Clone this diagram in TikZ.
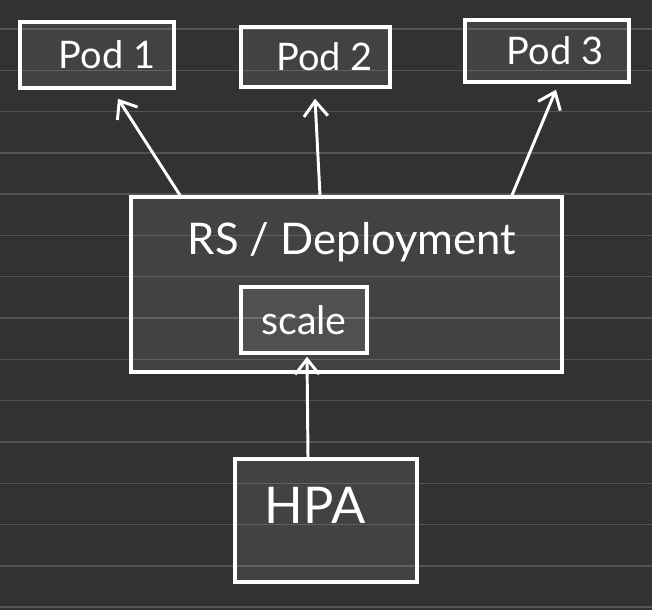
\documentclass[tikz,border=0pt]{standalone}
\usepackage{fontspec}
\setmainfont{Lato}
\usetikzlibrary{arrows.meta}
\definecolor{boardbg}{RGB}{50,50,50}
\definecolor{boardline}{RGB}{84,84,84}
\tikzset{
  wbox/.style={rectangle, draw=white, line width=2.5pt, fill=white, fill opacity=0.08,
               text opacity=1, text=white, inner sep=0pt},
  podbox/.style={wbox, font=\fontsize{27}{30}\selectfont},
  rsbox/.style={wbox, minimum width=10.775cm, minimum height=4.375cm},
  scalebox/.style={wbox, minimum width=3.15cm, minimum height=1.65cm, font=\fontsize{28}{30}\selectfont},
  hpabox/.style={wbox, minimum width=4.55cm, minimum height=3.075cm},
  wtext/.style={text=white, inner sep=0pt},
  warrow/.style={-{Straight Barb[length=3.8mm,width=6mm]}, white, line width=2.1pt,
                 line cap=round, line join=round},
  ruled/.style={boardline, line width=1pt},
}
\begin{document}
\begin{tikzpicture}
  \useasboundingbox (0,0) rectangle (16.3,15.25);
  \fill[boardbg] (0,0) rectangle (16.3,15.25);
  \foreach \k in {0,...,14}
    \draw[ruled] (0,{14.525-1.0325*\k}) -- (16.3,{14.525-1.0325*\k});
  % pods
  \node[podbox, minimum width=3.85cm,  minimum height=1.65cm] (pod1) at (2.425,13.875)  {\hspace{0.5cm}Pod 1};
  \node[podbox, minimum width=3.725cm, minimum height=1.5cm]  (pod2) at (7.89,13.825)   {\hspace{0.45cm}Pod 2};
  \node[podbox, minimum width=4.1cm,   minimum height=1.55cm] (pod3) at (13.675,13.975) {\hspace{0.4cm}Pod 3};
  % replica set
  \node[rsbox] (rs) at (8.6625,8.1375) {};
  \node[wtext, font=\fontsize{31}{34}\selectfont] (rstext) at (8.8,9.2) {RS / Deployment};
  \node[scalebox] (scale) at (7.6,7.25) {scale};
  % autoscaler
  \node[hpabox] (hpa) at (8.15,2.2375) {};
  \node[wtext, font=\fontsize{36}{40}\selectfont] (hpatext) at (7.875,2.625) {HPA};
  \draw[warrow] ([xshift=-4.1625cm]rs.north) -- ([xshift=0.525cm,yshift=-0.225cm]pod1.south);
  \draw[warrow] ([xshift=-0.6625cm]rs.north) -- ([xshift=-0.015cm,yshift=-0.25cm]pod2.south);
  \draw[warrow] ([xshift=4.1375cm]rs.north) -- ([xshift=0.225cm,yshift=-0.15cm]pod3.south);
  \draw[warrow] ([xshift=-0.45cm]hpa.north) -- ([xshift=0.075cm,yshift=-0.05cm]scale.south);
\end{tikzpicture}
\end{document}
